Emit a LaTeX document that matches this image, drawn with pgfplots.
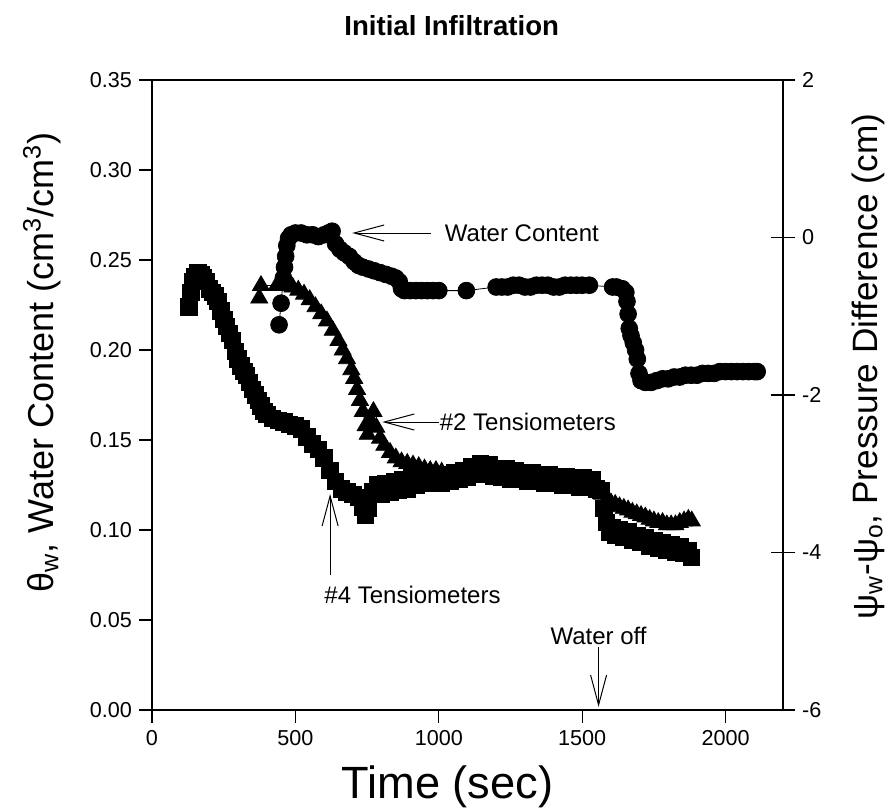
\documentclass[border=0pt]{standalone}
\usepackage{fontspec}
\setmainfont{Liberation Sans}
\usepackage{pgfplots}
\pgfplotsset{compat=1.18}
\usetikzlibrary{arrows.meta}

\begin{document}
\begin{tikzpicture}
\useasboundingbox (-76pt,-49.5pt) rectangle (370pt,355pt);
\begin{axis}[
  at={(0,0)}, anchor=south west,
  scale only axis, width=315.5pt, height=315pt,
  xmin=0, xmax=2200, ymin=0, ymax=0.35,
  xtick={0,500,1000,1500,2000},
  ytick={0,0.05,0.1,0.15,0.2,0.25,0.3,0.35},
  xtick pos=bottom, ytick pos=left, tick align=outside,
  major tick length=6.5pt,
  axis line style={line width=0.7pt}, every tick/.style={line width=0.6pt, black},
  /pgf/number format/assume math mode=true,
  /pgf/number format/set thousands separator={},
  tick label style={font=\fontsize{10.8}{13}\selectfont},
  yticklabel style={/pgf/number format/.cd, fixed, fixed zerofill, precision=2},
  scaled y ticks=false,
  every axis title shift=0pt,
  title={Initial Infiltration},
  title style={at={(axis description cs:0.475,1.087)}, anchor=center, font=\fontsize{13.8}{16}\selectfont\bfseries},
  xlabel={Time (sec)},
  xlabel style={at={(axis description cs:0.468,-0.122)}, anchor=center, font=\fontsize{22.6}{26}\selectfont},
  ylabel={θ\textsubscript{w}, Water Content (cm\textsuperscript{3}/cm\textsuperscript{3})},
  ylabel style={at={(axis description cs:-0.1745,0.552)}, anchor=center, font=\fontsize{18}{22}\selectfont},
]
% Water content
\addplot[black, line width=0.4pt, mark=*, mark size=4.2pt, mark options={fill=black}] coordinates {
(443,0.214) (450,0.226) (458,0.240) (462,0.246) (466,0.252) (470,0.258) (476,0.262)
(485,0.264) (500,0.265) (520,0.265) (540,0.264) (560,0.264) (580,0.263) (600,0.264)
(615,0.265) (628,0.266) (640,0.259) (655,0.256) (670,0.254) (688,0.252) (705,0.249)
(720,0.247) (735,0.246) (755,0.245) (775,0.244) (795,0.243) (815,0.242) (835,0.241)
(850,0.240) (862,0.238) (870,0.234) (880,0.233) (900,0.233) (920,0.233) (940,0.233)
(960,0.233) (980,0.233) (1000,0.233) (1096,0.233) (1200,0.235) (1220,0.235) (1240,0.235)
(1260,0.236) (1280,0.236) (1300,0.235) (1320,0.235) (1340,0.236) (1360,0.236) (1380,0.236)
(1400,0.235) (1420,0.235) (1440,0.236) (1460,0.236) (1480,0.236) (1500,0.236) (1525,0.236)
(1606,0.235) (1620,0.235) (1640,0.234) (1652,0.232) (1656,0.227) (1660,0.220) (1664,0.212)
(1670,0.208) (1678,0.204) (1686,0.200) (1692,0.195) (1698,0.187) (1705,0.183) (1720,0.182)
(1740,0.182) (1760,0.183) (1780,0.184) (1800,0.184) (1820,0.185) (1840,0.185) (1860,0.186)
(1880,0.186) (1900,0.186) (1920,0.187) (1940,0.187) (1960,0.187) (1980,0.188) (2000,0.188)
(2020,0.188) (2040,0.188) (2060,0.188) (2080,0.188) (2100,0.188) (2110,0.188)
};
% annotations
\node[anchor=west, inner sep=0pt, font=\fontsize{12}{14}\selectfont] at (axis cs:1020,0.265) {Water Content};
\draw[line width=0.5pt, -{Straight Barb[length=15pt,width=8pt]}] (axis cs:974,0.265) -- (axis cs:698,0.265);
\node[anchor=west, inner sep=0pt, font=\fontsize{12}{14}\selectfont] at (axis cs:1002,0.160) {\#2 Tensiometers};
\draw[line width=0.5pt, -{Straight Barb[length=15pt,width=8pt]}] (axis cs:1002,0.160) -- (axis cs:803,0.160);
\node[anchor=west, inner sep=0pt, font=\fontsize{12}{14}\selectfont] at (axis cs:600,0.0639) {\#4 Tensiometers};
\draw[line width=0.5pt, -{Straight Barb[length=15pt,width=8pt]}] (axis cs:621,0.075) -- (axis cs:621,0.120);
\node[anchor=south, inner sep=1pt, font=\fontsize{12}{14}\selectfont] at (axis cs:1557,0.035) {Water off};
\draw[line width=0.5pt, -{Straight Barb[length=15pt,width=8pt]}] (axis cs:1557,0.035) -- (axis cs:1557,0.0017);
\end{axis}
\begin{axis}[
  at={(0,0)}, anchor=south west,
  scale only axis, width=315.5pt, height=315pt,
  xmin=0, xmax=2200, ymin=-6, ymax=2,
  ytick={-6,-4,-2,0,2},
  axis x line=none, axis y line*=right,
  tick align=center, major tick length=12pt,
  axis line style={line width=0.7pt, -}, every tick/.style={line width=0.6pt, black},
  /pgf/number format/assume math mode=true,
  tick label style={font=\fontsize{10.8}{13}\selectfont},
  ylabel={ψ\textsubscript{w}-ψ\textsubscript{o}, Pressure Difference (cm)},
  ylabel style={at={(axis description cs:1.1347,0.545)}, anchor=center, font=\fontsize{17.6}{21}\selectfont},
]
% #4 Tensiometers
\addplot[black, line width=0.4pt, mark=square*, mark size=4.1pt, mark options={fill=black}] coordinates {
(129,-0.88) (136,-0.70) (142,-0.56) (150,-0.49) (160,-0.45) (170,-0.47) (180,-0.51) (190,-0.56)
(200,-0.65) (210,-0.70) (220,-0.74) (230,-0.81) (240,-0.93) (250,-1.04) (260,-1.13) (270,-1.22)
(280,-1.31) (290,-1.45) (300,-1.54) (310,-1.63) (320,-1.70) (330,-1.75) (340,-1.84) (350,-1.93)
(360,-2.00) (370,-2.07) (380,-2.14) (390,-2.21) (400,-2.25) (420,-2.30) (440,-2.32) (460,-2.34)
(480,-2.37) (500,-2.39) (520,-2.43) (540,-2.53) (560,-2.62) (580,-2.69) (600,-2.80) (620,-2.96)
(640,-3.10) (660,-3.19) (680,-3.23) (700,-3.26) (720,-3.30) (735,-3.42) (745,-3.53) (755,-3.44)
(770,-3.23) (785,-3.14) (800,-3.26) (815,-3.12) (830,-3.23) (845,-3.10) (860,-3.21) (875,-3.07)
(890,-3.19) (905,-3.05) (920,-3.14) (935,-3.01) (950,-3.12) (965,-3.01) (980,-3.12) (995,-3.03)
(1010,-3.12) (1025,-3.01) (1040,-3.10) (1055,-2.98) (1070,-3.07) (1085,-2.96) (1100,-3.05) (1115,-2.91)
(1130,-3.01) (1145,-2.87) (1160,-2.98) (1175,-2.89) (1190,-3.03) (1205,-2.94) (1220,-3.05) (1235,-2.94)
(1250,-3.07) (1265,-2.96) (1280,-3.07) (1295,-2.98) (1310,-3.10) (1325,-2.98) (1340,-3.10) (1355,-3.01)
(1370,-3.12) (1385,-3.01) (1400,-3.12) (1415,-3.03) (1430,-3.14) (1445,-3.03) (1460,-3.14) (1475,-3.05)
(1490,-3.17) (1505,-3.05) (1520,-3.17) (1535,-3.07) (1550,-3.19)
(1565,-3.21) (1575,-3.44) (1585,-3.62) (1595,-3.74) (1605,-3.69) (1615,-3.78) (1630,-3.71) (1645,-3.81)
(1660,-3.74) (1675,-3.85) (1690,-3.78) (1705,-3.87) (1720,-3.81) (1735,-3.92) (1750,-3.85) (1765,-3.94)
(1780,-3.87) (1795,-3.97) (1810,-3.90) (1825,-3.99) (1840,-3.92) (1855,-4.01) (1870,-3.97) (1880,-4.06)
};
% #2 Tensiometers
\addplot[black, line width=0.4pt, mark=triangle*, mark size=4.9pt, mark options={fill=black}] coordinates {
(374,-0.77) (380,-0.61) (435,-0.61) (455,-0.61) (475,-0.61) (490,-0.63) (510,-0.67) (530,-0.72)
(550,-0.79) (570,-0.88) (590,-0.97) (610,-1.06) (630,-1.18) (650,-1.31) (665,-1.43) (680,-1.54)
(695,-1.68) (705,-1.79) (715,-1.93) (725,-2.07) (735,-2.21) (745,-2.39) (752,-2.50) (762,-2.34)
(772,-2.21) (782,-2.41) (795,-2.55) (810,-2.64) (830,-2.73) (850,-2.80) (870,-2.85) (890,-2.87)
(910,-2.89) (930,-2.91) (950,-2.94) (970,-2.96) (990,-2.96) (1010,-2.98) (1040,-3.01) (1070,-3.01)
(1100,-3.03) (1130,-3.03) (1160,-3.03) (1190,-3.05) (1220,-3.05) (1250,-3.07) (1280,-3.07) (1310,-3.10)
(1340,-3.10) (1370,-3.12) (1400,-3.12) (1430,-3.12) (1460,-3.14) (1490,-3.14) (1520,-3.14) (1555,-3.17)
(1570,-3.26) (1585,-3.33) (1600,-3.37) (1615,-3.39) (1630,-3.42) (1645,-3.44) (1660,-3.46) (1675,-3.49)
(1690,-3.51) (1705,-3.53) (1720,-3.55) (1735,-3.58) (1750,-3.60) (1765,-3.62) (1780,-3.62) (1795,-3.65)
(1810,-3.65) (1825,-3.65) (1840,-3.62) (1855,-3.60) (1870,-3.58) (1882,-3.60)
};
\end{axis}
\end{tikzpicture}
\end{document}
